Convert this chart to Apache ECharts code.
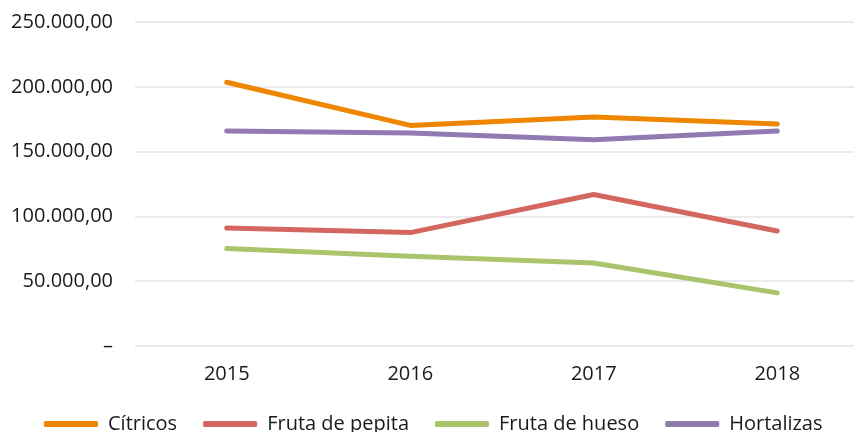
<!DOCTYPE html>
<html>
<head>
<meta charset="utf-8">
<script src="https://cdn.jsdelivr.net/npm/echarts@6/dist/echarts.min.js"></script>
<style>
  html, body { margin: 0; padding: 0; background: #fff; }
  #main { width: 854px; height: 432px; }
</style>
</head>
<body>
<div id="main"></div>
<script>
// datos
var years = ['2015', '2016', '2017', '2018'];
var citricos = [203500, 170200, 176700, 171300];
var frutaPepita = [91000, 87500, 116900, 88700];
var frutaHueso = [75200, 69200, 64100, 41000];
var hortalizas = [165900, 164400, 159200, 165900];

var seriesNames = ['Cítricos', 'Fruta de pepita', 'Fruta de hueso', 'Hortalizas'];
var seriesColors = ['#ee8600', '#d3675f', '#a9c46b', '#9179b1'];

// formato español: 250.000,00 y "–" para el cero
function fmtEs(v) {
	if (v === 0) return '–';
	var s = Math.round(v).toString().replace(/\B(?=(\d{3})+(?!\d))/g, '.');
	return s + ',00';
}

var myChart = echarts.init(document.getElementById('main'));

var allData = [citricos, frutaPepita, frutaHueso, hortalizas];
var series = [];
for (var i = 0; i < seriesNames.length; i++) {
	series.push({
		name: seriesNames[i],
		type: 'line',
		data: allData[i],
		symbol: 'none',
		lineStyle: { width: 5, color: seriesColors[i], cap: 'round', join: 'round' },
		itemStyle: { color: seriesColors[i] }
	});
}

var option = {
	animation: false,
	textStyle: { fontFamily: 'Open Sans' },
	grid: {
		left: 135,
		width: 734,
		top: 22,
		bottom: 86,
		outerBoundsMode: 'none'
	},
	legend: {
		bottom: -2,
		left: 44,
		icon: 'roundRect',
		itemWidth: 54,
		itemHeight: 6,
		itemGap: 26,
		padding: 0,
		textStyle: {
			fontSize: 20,
			color: '#1a1a1a',
			fontFamily: 'Open Sans',
			padding: [0, 0, 0, 5]
		},
		data: seriesNames
	},
	xAxis: {
		type: 'category',
		data: years,
		boundaryGap: true,
		axisLine: { show: false },
		axisTick: { show: false },
		axisLabel: { fontSize: 20, color: '#1a1a1a', margin: 18 }
	},
	yAxis: {
		type: 'value',
		min: 0,
		max: 250000,
		interval: 50000,
		axisLine: { show: false },
		axisTick: { show: false },
		splitLine: { lineStyle: { color: '#e4e4e4', width: 1.5 } },
		axisLabel: {
			fontSize: 20,
			color: '#1a1a1a',
			margin: 22,
			formatter: fmtEs
		}
	},
	series: series
};

myChart.setOption(option);

window.addEventListener('resize', function () {
	myChart.resize();
});
</script>
</body>
</html>
